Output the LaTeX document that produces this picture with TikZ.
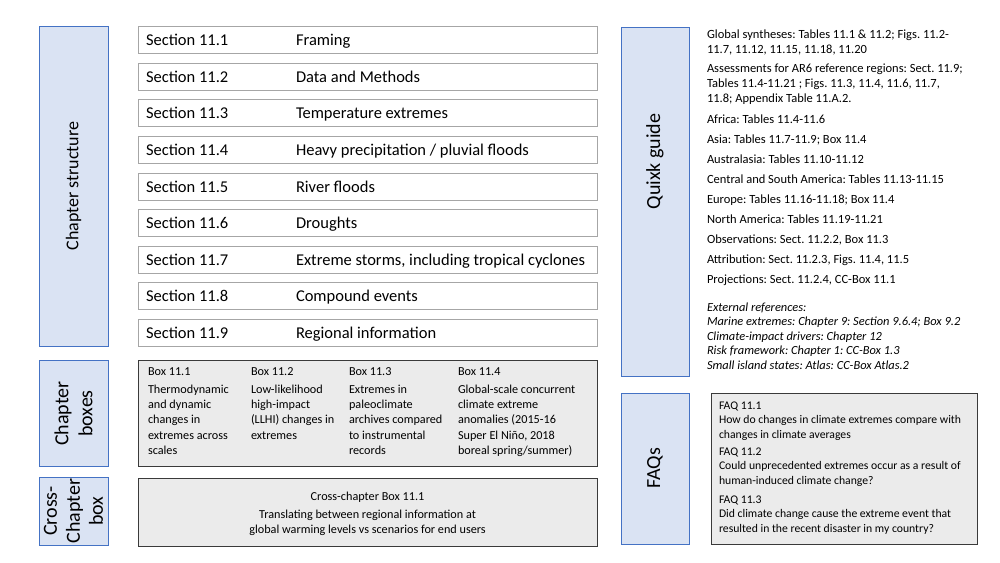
\documentclass[tikz,border=0pt]{standalone}
\usepackage{fontspec}
\setmainfont{Carlito}
\frenchspacing
\definecolor{labelfill}{HTML}{DAE3F3}
\definecolor{labeldraw}{HTML}{4472C4}
\definecolor{boxfill}{HTML}{EBEBEB}
\definecolor{boxdraw}{HTML}{3A3A3A}
\definecolor{secdraw}{HTML}{A6A6A6}
\begin{document}
\begin{tikzpicture}[x=1pt,y=-1pt,
  every node/.style={inner sep=0pt,outer sep=0pt},
  labelbox/.style={draw=labeldraw,fill=labelfill,line width=0.8pt},
  labeltext/.style={rotate=90,align=center,font=\fontsize{20}{24}\selectfont},
  secbox/.style={draw=secdraw,fill=white,line width=0.8pt,minimum width=459pt,minimum height=27pt},
  sectext/.style={anchor=base west,font=\fontsize{16.5}{20}\selectfont},
  greybox/.style={draw=boxdraw,fill=boxfill,line width=0.9pt},
  small/.style={anchor=base west,align=left,font=\fontsize{12.5}{15}\selectfont},
  smallit/.style={small,font=\fontsize{12.4}{14.6}\selectfont\itshape},
  faqtext/.style={small,font=\fontsize{11.7}{14.6}\selectfont},
  boxcol/.style={anchor=base west,align=left,font=\fontsize{12.2}{15.2}\selectfont},
]
\useasboundingbox[fill=white] (0,0) rectangle (1000,562);

% ---- side labels ----
\node[labelbox,minimum width=69pt,minimum height=320pt] (cslab) at (73.5,186) {};
\node[labeltext,font=\fontsize{18}{22}\selectfont] (cstext) at (cslab.center) {Chapter structure};
\node[labelbox,minimum width=69pt,minimum height=106pt] (cblab) at (73.5,413.5) {};
\node[labeltext] (cbtext) at (cblab.center) {Chapter\\boxes};
\node[labelbox,minimum width=69pt,minimum height=68pt] (cclab) at (73.5,511) {};
\node[labeltext,font=\fontsize{20}{23}\selectfont] (cctext) at (cclab.center) {Cross-\\Chapter\\box};
\node[labelbox,minimum width=68pt,minimum height=349pt] (qglab) at (655,201.5) {};
\node[labeltext] (qgtext) at ([yshift=40pt]qglab.center) {Quixk guide};
\node[labelbox,minimum width=68pt,minimum height=151pt] (faqlab) at (655,468.5) {};
\node[labeltext] (faqtext) at (faqlab.center) {FAQs};

% ---- sections ----
\foreach \t [count=\i] in {Framing, Data and Methods, Temperature extremes,
    Heavy precipitation / pluvial floods, River floods, Droughts,
    {Extreme storms, including tropical cyclones}, Compound events,
    Regional information}{
  \node[secbox] (sec\i) at (367.5,{40+36.625*(\i-1)}) {};
  \node[sectext] (secn\i) at ([xshift=8pt,yshift=-5.6pt]sec\i.west) {Section 11.\i};
  \node[sectext] (sect\i) at ([xshift=158pt,yshift=-5.6pt]sec\i.west) {\t};
}

% ---- chapter boxes (multi-line nodes sit on their last baseline) ----
\node[greybox,minimum width=459pt,minimum height=106pt] (boxes) at (367.5,413.5) {};
\node[boxcol] (bx1) at (148,454.3) {Box 11.1\\[2.8pt]Thermodynamic\\and dynamic\\changes in\\extremes across\\scales};
\node[boxcol] (bx2) at (251,439.1) {Box 11.2\\[2.8pt]Low-likelihood\\high-impact\\(LLHI) changes in\\extremes};
\node[boxcol] (bx3) at (349,454.3) {Box 11.3\\[2.8pt]Extremes in\\paleoclimate\\archives compared\\to instrumental\\records};
\node[boxcol] (bx4) at (458,454.3) {Box 11.4\\[2.8pt]Global-scale concurrent\\climate extreme\\anomalies (2015-16\\Super El Niño, 2018\\boreal spring/summer)};

% ---- cross-chapter box ----
\node[greybox,minimum width=459pt,minimum height=68pt] (cross) at (367.5,512) {};
\node[boxcol,anchor=base,align=center,font=\fontsize{12.2}{15}\selectfont] (crosst) at (367.5,533)
  {Cross-chapter Box 11.1\\[3pt]Translating between regional information at\\global warming levels vs scenarios for end users};

% ---- quick guide ----
\node[small] (qg1) at (707,53) {Global syntheses: Tables 11.1 \& 11.2; Figs. 11.2-\\11.7, 11.12, 11.15, 11.18, 11.20};
\node[small] (qg2) at (707,102.5) {Assessments for AR6 reference regions: Sect. 11.9;\\Tables 11.4-11.21 ; Figs. 11.3, 11.4, 11.6, 11.7,\\11.8; Appendix Table 11.A.2.};
\foreach \y/\t [count=\k] in {123/{Africa: Tables 11.4-11.6},
    143/{Asia: Tables 11.7-11.9; Box 11.4},
    163/{Australasia: Tables 11.10-11.12},
    183/{Central and South America: Tables 11.13-11.15},
    203/{Europe: Tables 11.16-11.18; Box 11.4},
    223/{North America: Tables 11.19-11.21},
    243/{Observations: Sect. 11.2.2, Box 11.3},
    263/{Attribution: Sect. 11.2.3, Figs. 11.4, 11.5},
    283/{Projections: Sect. 11.2.4, CC-Box 11.1}}{
  \node[small] (qgl\k) at (707,\y) {\t};
}
\node[smallit] (ext) at (707,369.4) {External references:\\Marine extremes: Chapter 9: Section 9.6.4; Box 9.2\\Climate-impact drivers: Chapter 12\\Risk framework: Chapter 1: CC-Box 1.3\\Small island states: Atlas: CC-Box Atlas.2};

% ---- FAQs ----
\node[greybox,minimum width=266pt,minimum height=151pt] (faq) at (844,468.5) {};
\node[faqtext] (faq1) at (719,438.2) {FAQ 11.1\\How do changes in climate extremes compare with\\changes in climate averages};
\node[faqtext] (faq2) at (719,484.2) {FAQ 11.2\\Could unprecedented extremes occur as a result of\\human-induced climate change?};
\node[faqtext] (faq3) at (719,532.2) {FAQ 11.3\\Did climate change cause the extreme event that\\resulted in the recent disaster in my country?};
\end{tikzpicture}
\end{document}
